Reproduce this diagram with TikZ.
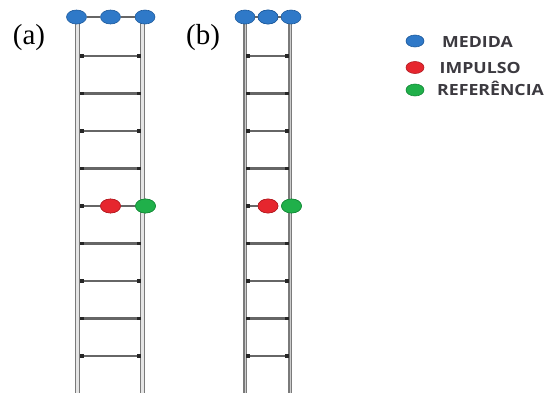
\documentclass[tikz,border=0pt]{standalone}
\usepackage{fontspec}
\setmainfont{Liberation Serif}
\newfontfamily\legendfont{Open Sans}
\usetikzlibrary{shapes.geometric}

\definecolor{medblue}{HTML}{2F79C8}
\definecolor{medblueedge}{HTML}{1D5A9C}
\definecolor{impred}{HTML}{E6262E}
\definecolor{impredge}{HTML}{B31C22}
\definecolor{refgreen}{HTML}{20B04A}
\definecolor{refgreenedge}{HTML}{158A38}
\definecolor{railgray}{HTML}{7A7A7A}
\definecolor{runggray}{HTML}{666666}
\definecolor{legendtext}{HTML}{3C3A40}

\tikzset{
  dot/.style={ellipse, minimum width=20pt, minimum height=14pt, inner sep=0pt, line width=0.6pt},
  bluedot/.style={dot, fill=medblue, draw=medblueedge},
  reddot/.style={dot, fill=impred, draw=impredge},
  greendot/.style={dot, fill=refgreen, draw=refgreenedge},
  legdot/.style={minimum width=18pt, minimum height=12pt},
  railwide/.style={draw=railgray, line width=1.4pt, double=black!10, double distance=3pt},
  railnarrow/.style={draw=railgray, line width=1.3pt, double=black!20, double distance=0.8pt},
  rung/.style={draw=runggray, line width=2.4pt},
  rungend/.style={fill=black!85, minimum size=3.2pt, inner sep=0pt, rectangle},
  panel/.style={font=\fontsize{29}{32}\selectfont},
  legendlabel/.style={font=\legendfont\bfseries\fontsize{15.4}{18}\selectfont, text=legendtext, xscale=1.15, anchor=base west, inner sep=0pt}
}

\begin{document}
\begin{tikzpicture}[x=1pt,y=-1pt]
\useasboundingbox (0,0) rectangle (547,394);

% ---- ladder (a) ----
\coordinate (aLtop) at (77.5,17);  \coordinate (aLbot) at (77.5,393);
\coordinate (aRtop) at (142.5,17); \coordinate (aRbot) at (142.5,393);
\draw[railwide] (aLtop) -- (aLbot);
\draw[railwide] (aRtop) -- (aRbot);
\foreach \y in {56,93.5,131,168.5,243.5,281,318.5,356} {
  \draw[rung] (80,\y) -- (140,\y);
  \node[rungend] at (82,\y) {};
  \node[rungend] at (139,\y) {};
}
% top row of measurement points
\node[bluedot] (a1) at (76.5,17) {};
\node[bluedot] (a2) at (110.5,17) {};
\node[bluedot] (a3) at (145,17) {};
\draw[rung, line width=1.6pt] (a1) -- (a2);
\draw[rung, line width=1.6pt] (a2) -- (a3);
% impulse / reference row
\coordinate (aMid) at (80,206);
\node[reddot] (aImp) at (110.5,206) {};
\node[greendot] (aRef) at (145.5,206) {};
\draw[rung] (aMid) -- (aImp);
\draw[rung] (aImp) -- (aRef);
\node[rungend] at (82,206) {};
\node[reddot] at (aImp) {};
\node[greendot] at (aRef) {};

% ---- ladder (b) ----
\coordinate (bLtop) at (245,17);  \coordinate (bLbot) at (245,393);
\coordinate (bRtop) at (290,17);  \coordinate (bRbot) at (290,393);
\draw[railnarrow] (bLtop) -- (bLbot);
\draw[railnarrow] (bRtop) -- (bRbot);
\foreach \y in {56,93.5,131,168.5,243.5,281,318.5,356} {
  \draw[rung] (246.5,\y) -- (288.5,\y);
  \node[rungend] at (248,\y) {};
  \node[rungend] at (287,\y) {};
}
\node[bluedot] (b1) at (245,17) {};
\node[bluedot] (b2) at (268,17) {};
\node[bluedot] (b3) at (291,17) {};
\draw[rung, line width=1.6pt] (b1) -- (b2);
\draw[rung, line width=1.6pt] (b2) -- (b3);
\node[bluedot] at (b2) {};
\coordinate (bMid) at (246.5,206);
\node[reddot] (bImp) at (268,206) {};
\node[greendot] (bRef) at (291.5,206) {};
\draw[rung] (bMid) -- (bImp);
\node[rungend] at (248,206) {};
\node[reddot] at (bImp) {};
\node[greendot] at (bRef) {};

% ---- panel labels ----
\node[panel] (la) at (29,38) {(a)};
\node[panel] (lb) at (203,38) {(b)};

% ---- legend ----
\node[bluedot, legdot] (kMed) at (415,41) {};
\node[reddot, legdot] (kImp) at (415,67.5) {};
\node[greendot, legdot] (kRef) at (415,90) {};
\node[legendlabel] (tMed) at (442,47.3) {MEDIDA};
\node[legendlabel] (tImp) at (439.5,73) {IMPULSO};
\node[legendlabel] (tRef) at (437,95.5) {REFERÊNCIA};
\end{tikzpicture}
\end{document}
